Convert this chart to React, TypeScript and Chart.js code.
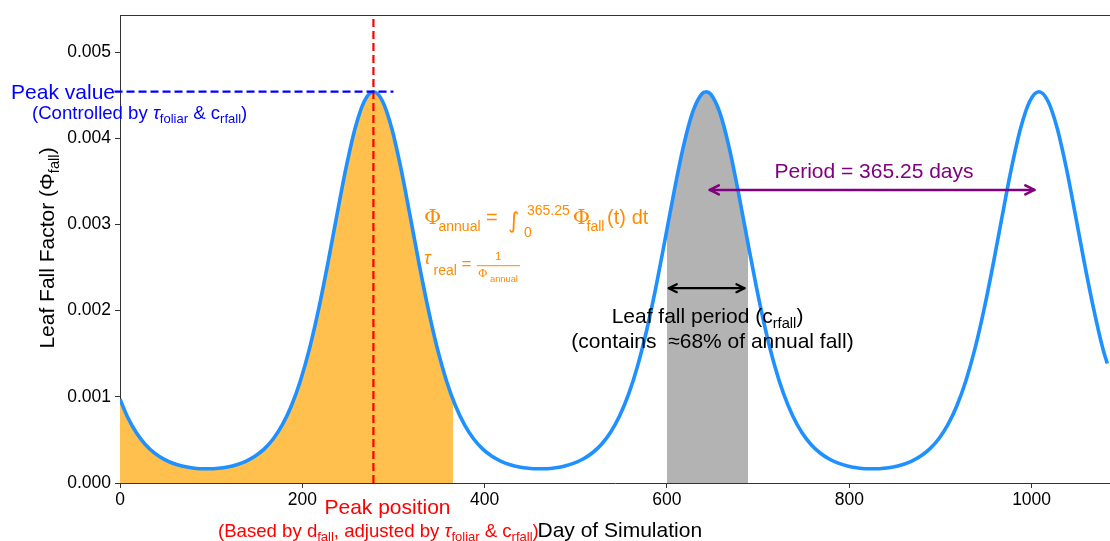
import React, { useEffect, useRef } from 'react';
import { Chart, registerables } from 'chart.js';

Chart.register(...registerables);

// ---------------- data ----------------
const days = [
  0, 8, 18, 28, 38, 48, 58, 68, 78, 88, 98, 108, 118, 128, 138, 148, 158, 168, 178, 188,
  198, 208, 218, 228, 238, 248, 258, 268, 278, 288, 298, 308, 318, 328, 338, 348, 358, 368, 378, 388,
  398, 408, 418, 428, 438, 448, 458, 468, 478, 488, 498, 508, 518, 528, 538, 548, 558, 568, 578, 588,
  598, 608, 618, 628, 638, 643, 648, 658, 668, 678, 688, 698, 708, 718, 728, 738, 748, 758, 768, 778,
  788, 798, 808, 818, 828, 838, 848, 858, 868, 878, 888, 898, 908, 918, 928, 938, 948, 958, 968, 978,
  988, 998, 1008, 1018, 1028, 1038, 1048, 1058, 1068, 1078, 1083,
];

const phiFall = [
  0.000971, 0.000772, 0.000582, 0.000444, 0.000346, 0.000277, 0.000229, 0.000196, 0.000177, 0.000166,
  0.000165, 0.000171, 0.000186, 0.000212, 0.000252, 0.00031, 0.000393, 0.000511, 0.000674, 0.000896,
  0.00119, 0.001565, 0.002023, 0.002549, 0.003112, 0.003658, 0.004119, 0.00443, 0.00454, 0.00443,
  0.004119, 0.003658, 0.003112, 0.002549, 0.002023, 0.001565, 0.00119, 0.000896, 0.000674, 0.000511,
  0.000393, 0.00031, 0.000252, 0.000212, 0.000186, 0.000171, 0.000165, 0.000166, 0.000177, 0.000197,
  0.00023, 0.000278, 0.000348, 0.000447, 0.000586, 0.000777, 0.001033, 0.001367, 0.001784, 0.002279,
  0.002829, 0.003391, 0.003903, 0.004297, 0.004512, 0.00454, 0.004512, 0.004297, 0.003903, 0.003391,
  0.002829, 0.002279, 0.001784, 0.001367, 0.001033, 0.000777, 0.000586, 0.000447, 0.000348, 0.000278,
  0.00023, 0.000197, 0.000177, 0.000166, 0.000165, 0.000171, 0.000186, 0.000212, 0.000252, 0.00031,
  0.000393, 0.000511, 0.000674, 0.000896, 0.00119, 0.001565, 0.002023, 0.002549, 0.003112, 0.003658,
  0.004119, 0.00443, 0.00454, 0.00443, 0.004119, 0.003658, 0.003112, 0.002549, 0.002023, 0.001565, 0.001387,
];

const xTicks = [0, 200, 400, 600, 800, 1000];
const xTickLabels = ['0', '200', '400', '600', '800', '1000'];
const yTicks = [0, 0.001, 0.002, 0.003, 0.004, 0.005];
const yTickLabels = ['0.000', '0.001', '0.002', '0.003', '0.004', '0.005'];

const xMax = 1086;
const yMax = 0.00543;

const peakDay = 278;
const peakValue = 0.00454;
const peakLineFrom = -6;
const peakLineTo = 300;

const annualEnd = 365.25;
const annualEndValue = 0.000971;
const leafStart = 600;
const leafStartValue = 0.002928;
const leafEnd = 689;
const leafEndValue = 0.002787;

const periodArrowFrom = 647;
const periodArrowTo = 1003;
const periodArrowValue = 0.0034;
const leafArrowFrom = 602;
const leafArrowTo = 685;
const leafArrowValue = 0.00226;

// ---------------- drawing helpers ----------------
type Piece = { t: string; s: number; dx?: number; dy?: number; it?: boolean; f?: string };
const FONT = 'Liberation Sans, Arial, sans-serif';

function fontOf(p: Piece) {
  return `${p.it ? 'italic ' : ''}${p.s}px ${p.f || FONT}`;
}

function drawRun(ctx: CanvasRenderingContext2D, pieces: Piece[], x: number, y: number, align: 'left' | 'center' | 'right', color: string) {
  const widths = pieces.map((p) => {
    ctx.font = fontOf(p);
    return ctx.measureText(p.t).width + (p.dx || 0);
  });
  const total = widths.reduce((a, b) => a + b, 0);
  let cx = align === 'left' ? x : align === 'center' ? x - total / 2 : x - total;
  ctx.fillStyle = color;
  ctx.textAlign = 'left';
  ctx.textBaseline = 'alphabetic';
  pieces.forEach((p, i) => {
    ctx.font = fontOf(p);
    ctx.fillText(p.t, cx + (p.dx || 0), y + (p.dy || 0));
    cx += widths[i];
  });
}

function drawAbs(ctx: CanvasRenderingContext2D, pieces: Piece[], x: number, y: number, color: string) {
  ctx.fillStyle = color;
  ctx.textAlign = 'left';
  ctx.textBaseline = 'alphabetic';
  pieces.forEach((p) => {
    ctx.font = fontOf(p);
    ctx.fillText(p.t, x + (p.dx || 0), y + (p.dy || 0));
  });
}

function drawDoubleArrow(ctx: CanvasRenderingContext2D, x1: number, x2: number, y: number, color: string, lw: number, hl: number, hw: number) {
  ctx.save();
  ctx.strokeStyle = color;
  ctx.lineWidth = lw;
  ctx.lineCap = 'round';
  ctx.lineJoin = 'round';
  ctx.setLineDash([]);
  ctx.beginPath();
  ctx.moveTo(x1, y);
  ctx.lineTo(x2, y);
  ctx.stroke();
  ctx.beginPath();
  ctx.moveTo(x1 + hl, y - hw);
  ctx.lineTo(x1, y);
  ctx.lineTo(x1 + hl, y + hw);
  ctx.moveTo(x2 - hl, y - hw);
  ctx.lineTo(x2, y);
  ctx.lineTo(x2 - hl, y + hw);
  ctx.stroke();
  ctx.restore();
}

const annotations = {
  id: 'annotations',
  afterDatasetsDraw(chart: any) {
    const { ctx, chartArea: a, scales } = chart;
    const x = scales.x;
    const y = scales.y;
    ctx.save();

    // top spine
    ctx.strokeStyle = '#333';
    ctx.lineWidth = 1;
    ctx.beginPath();
    ctx.moveTo(a.left, Math.round(a.top) + 0.5);
    ctx.lineTo(a.right, Math.round(a.top) + 0.5);
    ctx.stroke();

    // red dashed peak position
    const px = x.getPixelForValue(peakDay);
    ctx.setLineDash([8, 4]);
    ctx.strokeStyle = '#ff0000';
    ctx.lineWidth = 2.2;
    ctx.beginPath();
    ctx.moveTo(px, a.bottom);
    ctx.lineTo(px, a.top);
    ctx.stroke();

    // blue dashed peak value
    const py = y.getPixelForValue(peakValue);
    ctx.strokeStyle = '#0000ff';
    ctx.beginPath();
    ctx.moveTo(x.getPixelForValue(peakLineFrom), py);
    ctx.lineTo(x.getPixelForValue(peakLineTo), py);
    ctx.stroke();
    ctx.setLineDash([]);

    // arrows
    drawDoubleArrow(ctx, x.getPixelForValue(periodArrowFrom), x.getPixelForValue(periodArrowTo), y.getPixelForValue(periodArrowValue), '#800080', 2.6, 9, 4.5);
    drawDoubleArrow(ctx, x.getPixelForValue(leafArrowFrom), x.getPixelForValue(leafArrowTo), y.getPixelForValue(leafArrowValue), '#000000', 2.2, 8, 4);

    // blue texts
    drawRun(ctx, [{ t: 'Peak value', s: 21 }], 115, 99, 'right', '#0000ff');
    drawRun(ctx, [
      { t: '(Controlled by ', s: 18.6 },
      { t: 'τ', s: 18.6, it: true },
      { t: 'foliar', s: 13, dy: 4 },
      { t: ' & c', s: 18.6 },
      { t: 'rfall', s: 13, dy: 4 },
      { t: ')', s: 18.6 },
    ], 32, 119, 'left', '#0000ff');

    // orange formulas
    const orange = '#ff8c00';
    drawAbs(ctx, [
      { t: 'Φ', s: 21, f: 'DejaVu Serif' },
      { t: 'annual', s: 14, dx: 14.5, dy: 7 },
      { t: '=', s: 20, dx: 62 },
      { t: '∫', s: 22, dx: 84, dy: 4, f: 'DejaVu Sans' },
      { t: '0', s: 14, dx: 100, dy: 13 },
      { t: '365.25', s: 14, dx: 103, dy: -9 },
      { t: 'Φ', s: 21, dx: 148.7, f: 'DejaVu Serif' },
      { t: 'fall', s: 14, dx: 162.5, dy: 7 },
      { t: '(t)', s: 20, dx: 183 },
      { t: 'dt', s: 20, dx: 207.7 },
    ], 424, 224, orange);
    drawAbs(ctx, [
      { t: 'τ', s: 18, it: true },
      { t: 'real', s: 14, dx: 9.5, dy: 11 },
      { t: '=', s: 17, dx: 37.5, dy: 5 },
      { t: '1', s: 11.5, dx: 71, dy: -4 },
      { t: 'Φ', s: 11.5, dx: 54, dy: 13, f: 'DejaVu Serif' },
      { t: 'annual', s: 9.3, dx: 66, dy: 17.5 },
    ], 424, 264, orange);
    ctx.fillStyle = orange;
    ctx.fillRect(476.7, 265.2, 43.3, 1);

    // purple / black texts
    drawRun(ctx, [{ t: 'Period = 365.25 days', s: 21 }], 874, 178, 'center', '#800080');
    drawRun(ctx, [
      { t: 'Leaf fall period (c', s: 21 },
      { t: 'rfall', s: 14.7, dy: 5 },
      { t: ')', s: 21 },
    ], 707.5, 323, 'center', '#000000');
    drawRun(ctx, [{ t: '(contains  ≈68% of annual fall)', s: 21 }], 712.5, 348, 'center', '#000000');

    // red texts below axis
    drawRun(ctx, [{ t: 'Peak position', s: 21 }], 387.5, 514, 'center', '#ff0000');
    drawRun(ctx, [
      { t: '(Based by d', s: 18.6 },
      { t: 'fall', s: 13, dy: 4 },
      { t: ', adjusted by ', s: 18.6 },
      { t: 'τ', s: 18.6, it: true },
      { t: 'foliar', s: 13, dy: 4 },
      { t: ' & c', s: 18.6 },
      { t: 'rfall', s: 13, dy: 4 },
      { t: ')', s: 18.6 },
    ], 218, 537, 'left', '#ff0000');

    // x axis title
    drawRun(ctx, [{ t: 'Day of Simulation', s: 21 }], 537.5, 537, 'left', '#000000');

    // y axis title (rotated)
    ctx.save();
    ctx.translate(54, 248);
    ctx.rotate(-Math.PI / 2);
    drawRun(ctx, [
      { t: 'Leaf Fall Factor (', s: 21 },
      { t: 'Φ', s: 21 },
      { t: 'fall', s: 14.7, dy: 5 },
      { t: ')', s: 21 },
    ], 0, 0, 'center', '#000000');
    ctx.restore();

    ctx.restore();
  },
};

const curvePts = days.map((d, i) => ({ x: d, y: phiFall[i] }));
const annualPts = [
  ...days.map((d, i) => ({ x: d, y: phiFall[i] })).filter((p) => p.x <= annualEnd),
  { x: annualEnd, y: annualEndValue },
];
const leafPts = [
  { x: leafStart, y: leafStartValue },
  ...days.map((d, i) => ({ x: d, y: phiFall[i] })).filter((p) => p.x > leafStart && p.x < leafEnd),
  { x: leafEnd, y: leafEndValue },
];

export default function App() {
  const ref = useRef<HTMLCanvasElement | null>(null);
  useEffect(() => {
    if (!ref.current) return;
    const tickFont = { family: FONT, size: 17.5 };
    const chart = new Chart(ref.current, {
      type: 'line',
      data: {
        datasets: [
          {
            label: 'curve',
            data: curvePts,
            borderColor: '#1E90FF',
            borderWidth: 3.6,
            pointRadius: 0,
            fill: false,
            cubicInterpolationMode: 'monotone',
            order: 0,
          },
          {
            label: 'annual',
            data: annualPts,
            borderColor: 'transparent',
            borderWidth: 0,
            backgroundColor: '#FFC04D',
            fill: 'origin',
            pointRadius: 0,
            cubicInterpolationMode: 'monotone',
            order: 1,
          },
          {
            label: 'leaf',
            data: leafPts,
            borderColor: 'transparent',
            borderWidth: 0,
            backgroundColor: '#B3B3B3',
            fill: 'origin',
            pointRadius: 0,
            cubicInterpolationMode: 'monotone',
            order: 1,
          },
        ],
      } as any,
      options: {
        responsive: false,
        animation: false,
        devicePixelRatio: 1,
        layout: { padding: { left: 0, right: 0, top: 15, bottom: 0 } },
        plugins: { legend: { display: false }, tooltip: { enabled: false } },
        scales: {
          x: {
            type: 'linear',
            min: 0,
            max: xMax,
            afterBuildTicks: (axis: any) => {
              axis.ticks = xTicks.map((v) => ({ value: v }));
            },
            afterFit: (axis: any) => {
              axis.height = 58;
            },
            ticks: {
              font: tickFont,
              color: '#000',
              padding: 2,
              maxRotation: 0,
              autoSkip: false,
              callback: (_v: any, i: number) => xTickLabels[i],
            },
            grid: { display: true, drawOnChartArea: false, drawTicks: true, tickLength: 5, color: '#333', lineWidth: 1 },
            border: { display: true, color: '#333', width: 1 },
          },
          y: {
            type: 'linear',
            min: 0,
            max: yMax,
            afterBuildTicks: (axis: any) => {
              axis.ticks = yTicks.map((v) => ({ value: v }));
            },
            afterFit: (axis: any) => {
              axis.width = 120;
            },
            ticks: {
              font: tickFont,
              color: '#000',
              padding: 4,
              callback: (_v: any, i: number) => yTickLabels[i],
            },
            grid: { display: true, drawOnChartArea: false, drawTicks: true, tickLength: 5, color: '#333', lineWidth: 1 },
            border: { display: true, color: '#333', width: 1 },
          },
        },
      } as any,
      plugins: [annotations],
    });
    return () => chart.destroy();
  }, []);
  return (
    <div style={{ position: 'fixed', left: 0, top: 0, width: 1110, height: 541, background: '#fff', overflow: 'hidden' }}>
      <canvas ref={ref} width={1110} height={541} style={{ display: 'block', width: 1110, height: 541 }} />
    </div>
  );
}
